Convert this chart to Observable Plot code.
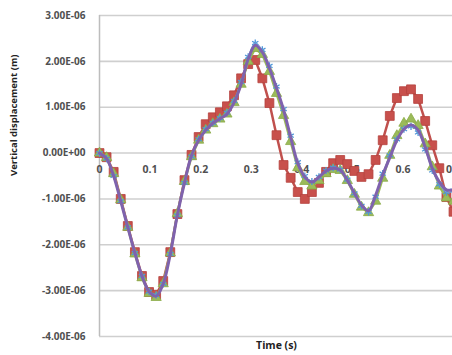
<!DOCTYPE html>
<html>
<head>
<meta charset="utf-8">
<script src="https://cdn.jsdelivr.net/npm/d3@7"></script>
<script src="https://cdn.jsdelivr.net/npm/@observablehq/plot@0.6"></script>
<style>
  html, body { margin: 0; padding: 0; background: #fff; overflow: hidden; }
  svg { display: block; }
</style>
</head>
<body>
<div id="chart"></div>
<script>
// Time samples (s)
const time = [0, 0.014, 0.028, 0.042, 0.056, 0.07, 0.084, 0.098, 0.112, 0.126,
  0.14, 0.154, 0.168, 0.182, 0.196, 0.21, 0.224, 0.238, 0.252, 0.266,
  0.28, 0.294, 0.308, 0.322, 0.336, 0.35, 0.364, 0.378, 0.392, 0.406,
  0.42, 0.434, 0.448, 0.462, 0.476, 0.49, 0.504, 0.518, 0.532, 0.546,
  0.56, 0.574, 0.588, 0.602, 0.616, 0.63, 0.644, 0.658, 0.672, 0.686, 0.7];

// Vertical displacement, in units of 1E-06 m
const redSeries = [0, -0.09, -0.41, -1.0, -1.59, -2.16, -2.68, -3.03, -3.09, -2.79,
  -2.16, -1.33, -0.59, -0.04, 0.35, 0.63, 0.78, 0.89, 1.02, 1.26,
  1.63, 1.94, 2.03, 1.63, 1.09, 0.39, -0.26, -0.54, -0.85, -1.0,
  -0.85, -0.65, -0.41, -0.22, -0.15, -0.24, -0.39, -0.52, -0.46, -0.15,
  0.28, 0.81, 1.2, 1.35, 1.39, 1.18, 0.7, 0.17, -0.33, -0.96, -1.28];

const greenSeries = [0, -0.1, -0.45, -1.02, -1.62, -2.2, -2.72, -3.06, -3.15, -2.85,
  -2.18, -1.32, -0.62, -0.08, 0.28, 0.5, 0.64, 0.74, 0.85, 1.1,
  1.5, 2.0, 2.28, 2.15, 1.78, 1.3, 0.82, 0.25, -0.32, -0.62,
  -0.72, -0.6, -0.45, -0.36, -0.38, -0.6, -0.9, -1.18, -1.3, -1.05,
  -0.55, -0.05, 0.38, 0.65, 0.74, 0.6, 0.2, -0.3, -0.72, -0.98, -1.05];

const blueSeries = [0, -0.12, -0.5, -1.05, -1.62, -2.18, -2.68, -3.02, -3.1, -2.85,
  -2.2, -1.36, -0.65, -0.08, 0.3, 0.52, 0.66, 0.76, 0.88, 1.14,
  1.55, 2.1, 2.4, 2.25, 1.9, 1.45, 0.96, 0.38, -0.2, -0.5,
  -0.62, -0.52, -0.38, -0.32, -0.36, -0.58, -0.88, -1.15, -1.28, -0.95,
  -0.45, -0.05, 0.3, 0.52, 0.58, 0.45, 0.08, -0.38, -0.68, -0.85, -0.82];

const purpleSeries = [0, -0.12, -0.5, -1.05, -1.62, -2.18, -2.68, -3.02, -3.12, -2.85,
  -2.2, -1.35, -0.65, -0.05, 0.28, 0.5, 0.65, 0.75, 0.85, 1.1,
  1.5, 2.05, 2.35, 2.2, 1.85, 1.42, 0.94, 0.35, -0.22, -0.52,
  -0.63, -0.52, -0.39, -0.33, -0.37, -0.59, -0.87, -1.13, -1.26, -0.92,
  -0.48, -0.1, 0.28, 0.52, 0.61, 0.5, 0.13, -0.33, -0.63, -0.8, -0.8];

const xTicks = [0, 0.1, 0.2, 0.3, 0.4, 0.5, 0.6, 0.7];
const xTickLabels = ["0", "0.1", "0.2", "0.3", "0.4", "0.5", "0.6", "0.7"];
const yTicks = [-4, -3, -2, -1, 0, 1, 2, 3];

const rows = (vals) => time.map((t, i) => ({t, v: vals[i]}));
const red = rows(redSeries), green = rows(greenSeries), blue = rows(blueSeries), purple = rows(purpleSeries);

function fmtE(d) {
  const [m, e] = (d * 1e-6).toExponential(2).split("e");
  const ei = +e;
  return m.toUpperCase() + "E" + (ei < 0 ? "-" : "+") + String(Math.abs(ei)).padStart(2, "0");
}

const font = "'Open Sans', 'DejaVu Sans', sans-serif";

const chart = Plot.plot({
  width: 452,
  height: 355,
  marginLeft: 99,
  marginRight: -1,
  marginTop: 15,
  marginBottom: 19,
  style: {fontFamily: font, background: "#fff", overflow: "visible"},
  x: {domain: [0, 0.7]},
  y: {domain: [-4, 3], ticks: yTicks},
  marks: [
    Plot.gridY(yTicks, {stroke: "#cfcfcf", strokeOpacity: 1, strokeWidth: 1.6}),
    Plot.ruleX([0], {stroke: "#bdbdbd", strokeWidth: 1.5}),
    Plot.axisY(yTicks, {tickSize: 0, tickPadding: 14, tickFormat: fmtE, fontSize: 10, fontWeight: "bold", fill: "#505050", label: null}),
    Plot.axisX({ticks: [], tickSize: 0, label: null}),
    Plot.text(xTicks, {x: d => d, y: 0, dy: 17, text: (d, i) => xTickLabels[i], fontSize: 10.5, fontWeight: "bold", fill: "#505050"}),
    Plot.text(["Vertical displacement (m)"], {frameAnchor: "left", dx: -86, rotate: -90, text: d => d, fontSize: 9.5, fontWeight: "bold", fill: "#222"}),
    Plot.text(["Time (s)"], {frameAnchor: "bottom", dy: 12, text: d => d, fontSize: 10.5, fontWeight: "bold", fill: "#222"}),
    // red series with squares
    Plot.line(red, {x: "t", y: "v", stroke: "#c0504d", strokeWidth: 2.5}),
    Plot.dot(red, {x: "t", y: "v", symbol: "square", r: 5, fill: "#c8504c", stroke: "#b5413e", strokeWidth: 0.8}),
    // green series with triangles
    Plot.line(green, {x: "t", y: "v", stroke: "#9bbb59", strokeWidth: 2.5}),
    Plot.dot(green, {x: "t", y: "v", symbol: "triangle", r: 3.8, fill: "#9bbb59", stroke: "#8aab48", strokeWidth: 0.8}),
    // blue asterisks
    Plot.dot(blue, {x: "t", y: "v", symbol: "asterisk", r: 3.4, stroke: "#4f96d8", strokeWidth: 1.3}),
    Plot.line(blue, {x: "t", y: "v", stroke: "#6fa9e0", strokeWidth: 1, curve: "catmull-rom"}),
    // purple line
    Plot.line(purple, {x: "t", y: "v", stroke: "#7f62ad", strokeWidth: 3, curve: "catmull-rom"})
  ]
});
document.getElementById("chart").appendChild(chart);
</script>
</body>
</html>
